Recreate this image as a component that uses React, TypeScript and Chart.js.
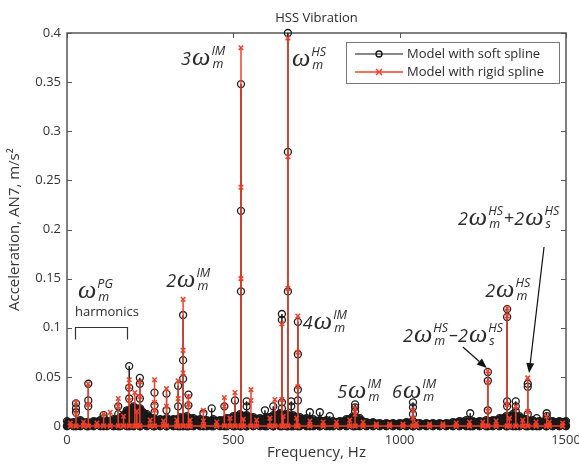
import React, { useEffect, useRef } from 'react';
import { Chart, registerables } from 'chart.js';
Chart.register(...registerables);

const xTicks = [0, 500, 1000, 1500];
const yTicks = [0, 0.05, 0.1, 0.15, 0.2, 0.25, 0.3, 0.35, 0.4];
const yTickLabels = ['0', '0.05', '0.1', '0.15', '0.2', '0.25', '0.3', '0.35', '0.4'];
const seriesNames = ['Model with soft spline', 'Model with rigid spline'];

// Spectral peaks: [frequency Hz, ...marker levels m/s^2]
const softPeaks: number[][] = [
  [27, 0.014, 0.018, 0.023],
  [64, 0.02, 0.026, 0.043],
  [110, 0.008, 0.011],
  [154, 0.012, 0.02],
  [187, 0.028, 0.039, 0.061],
  [219, 0.028, 0.043, 0.049],
  [263, 0.014, 0.021, 0.034],
  [299, 0.016, 0.033],
  [334, 0.02, 0.041],
  [349, 0.048, 0.067, 0.113],
  [365, 0.021, 0.032],
  [410, 0.013],
  [435, 0.018],
  [473, 0.02],
  [505, 0.026],
  [523, 0.137, 0.219, 0.348],
  [540, 0.02, 0.025],
  [595, 0.016],
  [620, 0.02],
  [646, 0.018, 0.024, 0.108, 0.114],
  [664, 0.137, 0.279, 0.4],
  [674, 0.02, 0.025],
  [694, 0.026, 0.037, 0.073, 0.106],
  [730, 0.014],
  [760, 0.014],
  [790, 0.01],
  [866, 0.015, 0.019, 0.022],
  [1040, 0.012, 0.019, 0.024],
  [1212, 0.013],
  [1265, 0.016, 0.046, 0.055],
  [1323, 0.02, 0.025, 0.111, 0.119],
  [1349, 0.015, 0.02, 0.025],
  [1385, 0.012, 0.04, 0.043],
  [1412, 0.008],
  [1442, 0.01, 0.013],
];

const rigidPeaks: number[][] = [
  [27, 0.012, 0.024],
  [64, 0.022, 0.043],
  [110, 0.012],
  [154, 0.02, 0.028],
  [187, 0.026, 0.04, 0.047],
  [204, 0.034],
  [219, 0.03, 0.045],
  [263, 0.016, 0.024, 0.047],
  [299, 0.02, 0.038],
  [334, 0.028, 0.046],
  [349, 0.054, 0.077, 0.129],
  [365, 0.022, 0.03],
  [410, 0.016],
  [473, 0.02, 0.029],
  [505, 0.034],
  [523, 0.15, 0.243, 0.385],
  [553, 0.026, 0.037],
  [625, 0.027],
  [646, 0.027, 0.104],
  [664, 0.14, 0.274, 0.395],
  [694, 0.04, 0.075, 0.112],
  [866, 0.012, 0.018],
  [1040, 0.008, 0.016],
  [1265, 0.015, 0.044, 0.056],
  [1323, 0.022, 0.112, 0.12],
  [1349, 0.02],
  [1385, 0.015, 0.049],
  [1442, 0.01],
];

// Broadband floor
const softFloorFreq = [0, 20, 40, 60, 80, 100, 120, 140, 160, 180, 200, 220, 240, 260, 280, 300, 320, 340, 360, 380, 400, 420, 440, 460, 480, 500, 520, 540, 560, 580, 600, 620, 640, 660, 680, 700, 720, 740, 760, 780, 800, 820, 840, 860, 880, 900, 920, 940, 960, 980, 1000, 1020, 1040, 1060, 1080, 1100, 1120, 1140, 1160, 1180, 1200, 1220, 1240, 1260, 1280, 1300, 1320, 1340, 1360, 1380, 1400, 1420, 1440, 1460, 1480, 1500];
const softFloorLevel = [0.005, 0.004, 0.006, 0.004, 0.005, 0.006, 0.005, 0.007, 0.009, 0.016, 0.02, 0.018, 0.012, 0.008, 0.007, 0.008, 0.007, 0.009, 0.01, 0.008, 0.007, 0.006, 0.007, 0.006, 0.008, 0.01, 0.012, 0.011, 0.009, 0.008, 0.009, 0.011, 0.013, 0.012, 0.011, 0.009, 0.008, 0.007, 0.006, 0.006, 0.005, 0.005, 0.007, 0.01, 0.008, 0.004, 0.004, 0.003, 0.003, 0.003, 0.003, 0.004, 0.005, 0.003, 0.003, 0.003, 0.003, 0.003, 0.004, 0.005, 0.006, 0.005, 0.005, 0.006, 0.006, 0.008, 0.01, 0.012, 0.01, 0.007, 0.006, 0.005, 0.006, 0.005, 0.005, 0.005];
const rigidFloorFreq = [10, 50, 90, 130, 170, 210, 250, 290, 330, 370, 410, 450, 490, 530, 570, 610, 650, 690, 730, 770, 810, 850, 890, 930, 970, 1010, 1050, 1090, 1130, 1170, 1210, 1250, 1290, 1330, 1370, 1410, 1450, 1490];
const rigidFloorLevel = [0.003, 0.004, 0.003, 0.014, 0.01, 0.015, 0.006, 0.005, 0.006, 0.006, 0.005, 0.004, 0.008, 0.007, 0.006, 0.008, 0.01, 0.008, 0.005, 0.004, 0.004, 0.006, 0.004, 0.002, 0.002, 0.002, 0.003, 0.002, 0.002, 0.003, 0.004, 0.004, 0.005, 0.008, 0.006, 0.004, 0.004, 0.003];

type Term = { op?: string; coef?: string; sup: string; sub: string };
type MathLabel = { f: number; v: number; terms: Term[] };

const mathLabels: MathLabel[] = [
  { f: 343, v: 0.367, terms: [{ coef: '3', sup: 'IM', sub: 'm' }] },
  { f: 676, v: 0.366, terms: [{ sup: 'HS', sub: 'm' }] },
  { f: 298, v: 0.1415, terms: [{ coef: '2', sup: 'IM', sub: 'm' }] },
  { f: 33, v: 0.13, terms: [{ sup: 'PG', sub: 'm' }] },
  { f: 709, v: 0.0987, terms: [{ coef: '4', sup: 'IM', sub: 'm' }] },
  { f: 812, v: 0.0285, terms: [{ coef: '5', sup: 'IM', sub: 'm' }] },
  { f: 977, v: 0.0285, terms: [{ coef: '6', sup: 'IM', sub: 'm' }] },
  { f: 1010, v: 0.0855, terms: [{ coef: '2', sup: 'HS', sub: 'm' }, { op: '\u2013', coef: '2', sup: 'HS', sub: 's' }] },
  { f: 1257, v: 0.1313, terms: [{ coef: '2', sup: 'HS', sub: 'm' }] },
  { f: 1175, v: 0.2046, terms: [{ coef: '2', sup: 'HS', sub: 'm' }, { op: '+', coef: '2', sup: 'HS', sub: 's' }] },
];

const arrows = [
  { f0: 1190, v0: 0.0804, f1: 1262, v1: 0.059 },
  { f0: 1434, v0: 0.1822, f1: 1389, v1: 0.0539 },
];

const harmonicsText = { f: 24, v: 0.112, text: 'harmonics' };
const bracket = { f0: 24, f1: 180, vTop: 0.1008, vBottom: 0.0885 };

const FONT = "'Open Sans', 'Noto Sans', sans-serif";
const TEXT = '#2a2a2a';
const RED = '#f0402a';
const INK = '#1a1a1a';

function buildPoints(peaks: number[][], floorF: number[], floorL: number[]) {
  const stems: { f: number; levels: number[] }[] = peaks.map((p) => ({ f: p[0], levels: p.slice(1) }));
  floorF.forEach((f, i) => stems.push({ f, levels: [floorL[i]] }));
  stems.sort((a, b) => a.f - b.f);
  const pts: { x: number; y: number }[] = [];
  stems.forEach((s) => {
    pts.push({ x: s.f, y: 0 });
    s.levels.slice().sort((a, b) => a - b).forEach((l) => pts.push({ x: s.f, y: l }));
    pts.push({ x: s.f, y: 0 });
  });
  return pts;
}

function drawMath(ctx: CanvasRenderingContext2D, x0: number, y0: number, terms: Term[]) {
  let x = x0;
  ctx.fillStyle = TEXT;
  ctx.textBaseline = 'alphabetic';
  ctx.textAlign = 'left';
  terms.forEach((t) => {
    if (t.op) {
      ctx.font = `18px ${FONT}`;
      ctx.fillText(t.op, x, y0 - 1);
      x += ctx.measureText(t.op).width;
    }
    if (t.coef) {
      ctx.font = `italic 18px ${FONT}`;
      ctx.fillText(t.coef, x, y0);
      x += ctx.measureText(t.coef).width + 1;
    }
    ctx.font = `italic 26px 'Liberation Serif', 'DejaVu Serif', serif`;
    ctx.fillText('\u03c9', x, y0);
    x += ctx.measureText('\u03c9').width + 1;
    ctx.font = `italic 12.5px ${FONT}`;
    ctx.fillText(t.sup, x, y0 - 10);
    const w1 = ctx.measureText(t.sup).width;
    ctx.fillText(t.sub, x + 1, y0 + 3);
    const w2 = ctx.measureText(t.sub).width + 1;
    x += Math.max(w1, w2) + 1;
  });
}

const decorPlugin = {
  id: 'decor',
  beforeDraw(chart: any) {
    const { ctx, width, height } = chart;
    ctx.save();
    ctx.fillStyle = '#fff';
    ctx.fillRect(0, 0, width, height);
    ctx.restore();
  },
  beforeDatasetsDraw(chart: any) {
    const { ctx, chartArea: a, scales } = chart;
    const sx = scales.x, sy = scales.y;
    ctx.save();
    ctx.strokeStyle = '#555';
    ctx.lineWidth = 1.5;
    ctx.strokeRect(a.left, a.top, a.right - a.left, a.bottom - a.top);
    ctx.lineWidth = 1;
    ctx.beginPath();
    xTicks.forEach((v) => {
      const px = Math.round(sx.getPixelForValue(v)) + 0.5;
      ctx.moveTo(px, a.bottom); ctx.lineTo(px, a.bottom - 5);
      ctx.moveTo(px, a.top); ctx.lineTo(px, a.top + 5);
    });
    yTicks.forEach((v) => {
      const py = Math.round(sy.getPixelForValue(v)) + 0.5;
      ctx.moveTo(a.left, py); ctx.lineTo(a.left + 5, py);
      ctx.moveTo(a.right, py); ctx.lineTo(a.right - 5, py);
    });
    ctx.stroke();
    ctx.restore();
  },
  afterDraw(chart: any) {
    const { ctx, chartArea: a, scales } = chart;
    const sx = scales.x, sy = scales.y;
    ctx.save();

    // title
    ctx.fillStyle = TEXT;
    ctx.font = `13px ${FONT}`;
    ctx.textAlign = 'center';
    ctx.textBaseline = 'alphabetic';
    ctx.fillText('HSS Vibration', (a.left + a.right) / 2, 22);

    // legend
    const lx = 346, ly = 42, lw = 213, lh = 41;
    ctx.fillStyle = '#fff';
    ctx.fillRect(lx, ly, lw, lh);
    ctx.strokeStyle = '#777';
    ctx.lineWidth = 1;
    ctx.strokeRect(lx + 0.5, ly + 0.5, lw, lh);
    const rows = [54, 72];
    rows.forEach((ry, i) => {
      ctx.strokeStyle = i === 0 ? '#111' : RED;
      ctx.lineWidth = i === 0 ? 1 : 1.5;
      ctx.beginPath();
      ctx.moveTo(355, ry); ctx.lineTo(403, ry);
      ctx.stroke();
      if (i === 0) {
        ctx.beginPath();
        ctx.lineWidth = 1.3;
        ctx.arc(379, ry, 3, 0, Math.PI * 2);
        ctx.stroke();
      } else {
        ctx.beginPath();
        ctx.moveTo(376, ry - 3); ctx.lineTo(382, ry + 3);
        ctx.moveTo(376, ry + 3); ctx.lineTo(382, ry - 3);
        ctx.stroke();
      }
      ctx.fillStyle = TEXT;
      ctx.font = `13px ${FONT}`;
      ctx.textAlign = 'left';
      ctx.textBaseline = 'middle';
      ctx.fillText(seriesNames[i], 407, ry);
    });

    // math labels
    mathLabels.forEach((m) => {
      drawMath(ctx, sx.getPixelForValue(m.f), sy.getPixelForValue(m.v), m.terms);
    });

    // harmonics + bracket
    ctx.fillStyle = TEXT;
    ctx.font = `13px ${FONT}`;
    ctx.textAlign = 'left';
    ctx.textBaseline = 'alphabetic';
    ctx.fillText(harmonicsText.text, sx.getPixelForValue(harmonicsText.f), sy.getPixelForValue(harmonicsText.v));
    const bx0 = Math.round(sx.getPixelForValue(bracket.f0)) + 0.5;
    const bx1 = Math.round(sx.getPixelForValue(bracket.f1)) + 0.5;
    const byT = Math.round(sy.getPixelForValue(bracket.vTop)) + 0.5;
    const byB = Math.round(sy.getPixelForValue(bracket.vBottom)) + 0.5;
    ctx.strokeStyle = '#333';
    ctx.lineWidth = 1.2;
    ctx.beginPath();
    ctx.moveTo(bx0, byB); ctx.lineTo(bx0, byT); ctx.lineTo(bx1, byT); ctx.lineTo(bx1, byB);
    ctx.stroke();

    // arrows
    arrows.forEach((ar) => {
      const x0 = sx.getPixelForValue(ar.f0), y0 = sy.getPixelForValue(ar.v0);
      const x1 = sx.getPixelForValue(ar.f1), y1 = sy.getPixelForValue(ar.v1);
      const ang = Math.atan2(y1 - y0, x1 - x0);
      const L = 10, W = 4;
      const bx = x1 - L * Math.cos(ang), by = y1 - L * Math.sin(ang);
      ctx.strokeStyle = '#111';
      ctx.lineWidth = 1.2;
      ctx.beginPath();
      ctx.moveTo(x0, y0); ctx.lineTo(bx, by);
      ctx.stroke();
      ctx.fillStyle = '#111';
      ctx.beginPath();
      ctx.moveTo(x1, y1);
      ctx.lineTo(bx + W * Math.sin(ang), by - W * Math.cos(ang));
      ctx.lineTo(bx - W * Math.sin(ang), by + W * Math.cos(ang));
      ctx.closePath();
      ctx.fill();
    });
    ctx.restore();
  },
};

export default function App() {
  const ref = useRef<HTMLCanvasElement | null>(null);
  useEffect(() => {
    document.body.style.margin = '0';
    const canvas = ref.current;
    if (!canvas) return;
    const chart = new Chart(canvas, {
      type: 'line',
      data: {
        datasets: [
          {
            label: seriesNames[0],
            data: buildPoints(softPeaks, softFloorFreq, softFloorLevel),
            borderColor: '#111',
            borderWidth: 1,
            pointStyle: 'circle',
            pointRadius: 3.5,
            pointBorderWidth: 1.3,
            pointBorderColor: INK,
            pointBackgroundColor: (c: any) => (c.raw && c.raw.y === 0 ? INK : 'rgba(0,0,0,0)'),
            order: 2,
            clip: false as any,
            tension: 0,
          },
          {
            label: seriesNames[1],
            data: buildPoints(rigidPeaks, rigidFloorFreq, rigidFloorLevel),
            borderColor: RED,
            borderWidth: 1.5,
            pointStyle: 'crossRot',
            pointRadius: 3.2,
            pointBorderWidth: 1.5,
            pointBorderColor: RED,
            pointBackgroundColor: RED,
            order: 1,
            clip: false as any,
            tension: 0,
          },
          {
            label: 'floor',
            data: softFloorFreq.map((f, i) => ({ x: f, y: softFloorLevel[i] })),
            borderColor: INK,
            borderWidth: 6,
            borderJoinStyle: 'round',
            borderCapStyle: 'round',
            backgroundColor: INK,
            fill: 'origin',
            pointRadius: 0,
            order: 3,
            clip: false as any,
            tension: 0,
          },
        ],
      },
      options: {
        animation: false,
        responsive: false,
        devicePixelRatio: 1,
        parsing: false as any,
        normalized: true,
        layout: { padding: { top: 33, right: 13, left: 0, bottom: 0 } },
        plugins: { legend: { display: false }, tooltip: { enabled: false }, title: { display: false } },
        events: [],
        scales: {
          x: {
            type: 'linear',
            min: 0,
            max: 1500,
            afterBuildTicks: (s: any) => { s.ticks = xTicks.map((v) => ({ value: v })); },
            afterFit: (s: any) => { s.height = 41; s.paddingLeft = 0; s.paddingRight = 0; },
            ticks: { autoSkip: false, maxRotation: 0, minRotation: 0, padding: 6, color: '#333', font: { family: FONT, size: 13 }, callback: (v: any) => String(v) },
            grid: { display: false, drawTicks: false },
            border: { display: false },
            title: { display: true, text: 'Frequency, Hz', color: '#333', font: { family: FONT, size: 15 }, padding: { top: 0, bottom: 5 } },
          },
          y: {
            type: 'linear',
            min: 0,
            max: 0.4,
            afterBuildTicks: (s: any) => { s.ticks = yTicks.map((v) => ({ value: v })); },
            afterFit: (s: any) => { s.width = 67; s.paddingTop = 0; s.paddingBottom = 0; },
            ticks: { autoSkip: false, padding: 6, color: '#333', font: { family: FONT, size: 13 }, callback: (_v: any, i: number) => yTickLabels[i] },
            grid: { display: false, drawTicks: false },
            border: { display: false },
            title: { display: true, text: 'Acceleration, AN7, m/s\u00b2', color: '#333', font: { family: FONT, size: 15 }, padding: { top: 6, bottom: 0 } },
          },
        },
      },
      plugins: [decorPlugin],
    } as any);
    return () => chart.destroy();
  }, []);
  return (
    <div style={{ position: 'absolute', left: 0, top: 0, width: 579, height: 467 }}>
      <canvas ref={ref} width={579} height={467} style={{ display: 'block', width: 579, height: 467 }} />
    </div>
  );
}
